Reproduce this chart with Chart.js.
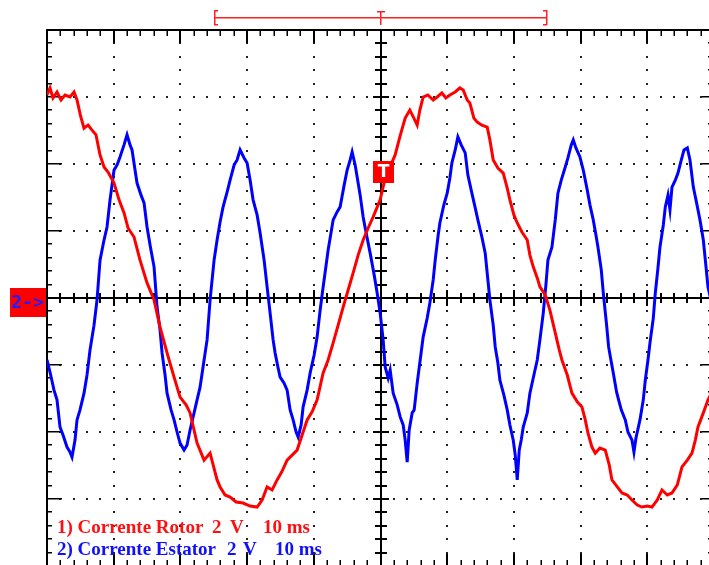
<!DOCTYPE html>
<html>
<head>
<meta charset="utf-8">
<script src="https://cdn.jsdelivr.net/npm/chart.js@4.4.1/dist/chart.umd.min.js"></script>
<style>
  html, body { margin: 0; padding: 0; background: #fff; overflow: hidden; }
  #scope { position: absolute; left: 0; top: 0; }
</style>
</head>
<body>
<canvas id="scope" width="720" height="572"></canvas>
<script>
// time base: 10 ms/div, 10 divisions; vertical: 2 V/div, 8 divisions
const timeMin = 0, timeMax = 100;
const voltMin = -8, voltMax = 8;
const triggerTime = 50;
const triggerLevel = 3.76;
const memoryStart = 25, memoryEnd = 75;

// channel 1: rotor current (red)
const rotorTime = [
  0, 0.45, 0.9, 1.5, 2.1, 2.7, 3.45, 4.05, 4.5, 5.0,
  5.55, 6.15, 6.75, 7.35, 7.95, 8.55, 9.15, 10.05, 10.8, 11.55,
  12.15, 13.05, 13.95, 15.0, 16.05, 16.95, 18.0, 19.05, 19.95, 20.85,
  21.45, 22.5, 23.55, 24.45, 25.5, 25.95, 26.7, 27.45, 28.35, 29.4,
  30.45, 31.5, 32.25, 33.0, 33.75, 34.5, 35.2, 36.0, 36.75, 37.5,
  38.25, 39.0, 39.75, 40.5, 41.4, 42.15, 42.9, 43.65, 44.4, 45.15,
  45.9, 46.65, 47.4, 48.15, 48.9, 49.95, 50.7, 51.4, 52.2, 52.9,
  53.7, 54.4, 55.0, 55.5, 55.9, 56.4, 57.1, 57.9, 58.5, 59.2,
  59.8, 60.4, 61.2, 61.9, 62.4, 63.0, 63.4, 64.0, 64.5, 65.2,
  66.0, 66.4, 66.9, 67.6, 68.4, 69.0, 69.4, 70.0, 70.5, 71.2,
  72.0, 72.4, 72.9, 73.5, 73.9, 74.7, 75.4, 76.2, 76.8, 77.2,
  78.0, 78.7, 79.5, 80.2, 80.7, 81.1, 81.7, 82.2, 82.9, 83.7,
  84.3, 84.7, 85.5, 86.2, 87.0, 87.7, 88.5, 89.2, 90.0, 90.7,
  91.5, 92.2, 93.0, 93.7, 94.5, 95.2, 96.0, 96.7, 97.2, 97.6,
  98.4, 99.1, 99.7
];
const rotorVolts = [
  6.06, 6.27, 5.97, 6.15, 5.91, 6.06, 6.0, 6.15, 5.91, 5.46,
  5.07, 5.16, 5.01, 4.87, 4.27, 3.91, 3.76, 3.43, 2.93, 2.54,
  2.09, 1.82, 1.13, 0.45, -0.06, -0.87, -1.64, -2.36, -2.96, -3.19,
  -3.43, -4.33, -4.84, -4.63, -5.43, -5.64, -5.88, -5.94, -6.09, -6.12,
  -6.21, -6.24, -6.03, -5.64, -5.73, -5.43, -5.19, -4.84, -4.69, -4.54,
  -4.09, -3.64, -3.40, -3.04, -2.24, -1.85, -1.34, -0.81, -0.27, 0.24,
  0.75, 1.28, 1.73, 2.09, 2.42, 2.93, 3.58, 3.91, 4.27, 4.81,
  5.37, 5.61, 5.37, 5.16, 5.61, 6.0, 6.06, 5.91, 6.0, 6.12,
  5.97, 6.06, 6.15, 6.27, 6.21, 5.91, 5.82, 5.37, 5.25, 5.16,
  5.10, 4.72, 4.12, 3.88, 3.73, 3.28, 2.93, 2.48, 2.24, 1.97,
  1.73, 1.28, 0.93, 0.60, 0.33, 0.09, -0.36, -1.04, -1.55, -1.85,
  -2.30, -2.84, -3.10, -3.25, -3.64, -4.03, -4.45, -4.63, -4.48, -4.54,
  -4.99, -5.43, -5.64, -5.82, -5.88, -6.03, -6.18, -6.24, -6.21, -6.24,
  -6.03, -5.73, -5.88, -5.82, -5.58, -5.04, -4.84, -4.63, -4.24, -3.85,
  -3.43, -3.04, -2.81
];

// channel 2: stator current (blue)
const statorTime = [
  0, 0.45, 1.05, 1.5, 1.95, 2.4, 3.0, 3.45, 3.75, 4.2,
  4.5, 4.95, 5.55, 6.0, 6.45, 7.05, 7.5, 7.95, 8.55, 9.0,
  9.45, 10.05, 10.5, 10.95, 11.55, 12.0, 12.45, 12.75, 13.2, 13.5,
  14.1, 14.55, 15.0, 15.45, 16.05, 16.5, 16.95, 17.25, 17.7, 18.0,
  18.6, 19.05, 19.5, 19.95, 20.55, 21.0, 21.45, 22.05, 22.5, 22.95,
  23.55, 24.0, 24.45, 25.05, 25.5, 25.95, 26.4, 27.0, 27.45, 28.05,
  28.5, 28.95, 29.55, 30.0, 30.45, 30.9, 31.5, 31.95, 32.55, 33.0,
  33.45, 33.9, 34.2, 34.65, 34.95, 35.55, 36.0, 36.45, 36.9, 37.35,
  37.65, 38.1, 38.4, 39.0, 39.45, 40.05, 40.5, 40.95, 41.4, 41.85,
  42.15, 42.9, 43.5, 43.95, 44.55, 45.0, 45.45, 45.75, 46.2, 46.5,
  46.95, 47.4, 47.85, 48.45, 49.05, 49.5, 49.95, 50.4, 50.7, 51.15,
  51.45, 51.9, 52.5, 52.95, 53.4, 53.7, 54.0, 54.3, 54.75, 55.05,
  55.5, 55.95, 56.4, 57.0, 57.4, 57.9, 58.2, 58.65, 58.9, 59.5,
  60.0, 60.4, 60.7, 61.2, 61.6, 62.1, 62.7, 63.1, 63.7, 64.2,
  64.6, 65.2, 65.7, 66.1, 66.4, 66.9, 67.2, 67.6, 67.9, 68.5,
  69.0, 69.4, 69.9, 70.2, 70.5, 70.8, 71.1, 71.4, 72.0, 72.4,
  73.0, 73.5, 73.9, 74.4, 74.8, 75.1, 75.7, 76.2, 76.6, 77.1,
  77.7, 78.1, 78.6, 78.9, 79.3, 79.9, 80.4, 81.0, 81.4, 81.9,
  82.3, 82.6, 83.1, 83.4, 83.9, 84.2, 84.6, 84.9, 85.4, 85.7,
  86.1, 86.7, 87.1, 87.7, 88.0, 88.3, 88.9, 89.4, 89.7, 90.1,
  90.4, 90.9, 91.2, 91.6, 91.9, 92.4, 92.7, 93.1, 93.4, 93.7,
  94.2, 94.6, 95.1, 95.5, 96.0, 96.4, 96.9, 97.3, 97.9, 98.4,
  98.7, 99.1, 99.7
];
const statorVolts = [
  -1.85, -2.21, -2.75, -3.04, -3.85, -4.09, -4.45, -4.60, -4.75, -4.24,
  -3.64, -3.34, -2.84, -2.30, -1.55, -0.81, -0.06, 1.13, 1.73, 2.12,
  2.93, 3.82, 3.97, 4.21, 4.57, 4.87, 4.57, 4.42, 3.82, 3.43,
  3.07, 2.84, 2.12, 1.58, 0.93, -0.27, -0.96, -1.64, -2.30, -2.84,
  -3.34, -3.64, -4.0, -4.33, -4.54, -4.39, -3.94, -3.43, -3.04, -2.66,
  -1.85, -1.25, -0.06, 1.13, 1.73, 2.27, 2.72, 3.16, 3.52, 3.97,
  4.12, 4.42, 4.18, 4.03, 3.52, 2.93, 2.48, 1.94, 1.13, 0.33,
  -0.45, -1.25, -1.64, -2.09, -2.36, -2.54, -2.75, -3.34, -3.64, -4.0,
  -4.15, -3.79, -3.25, -2.75, -2.24, -1.70, -1.16, -0.36, 0.33, 0.99,
  1.43, 2.33, 2.57, 2.72, 3.37, 3.82, 4.12, 4.36, 3.97, 3.61,
  3.07, 2.42, 1.94, 1.34, 0.69, 0.15, -0.45, -1.25, -2.06, -2.39,
  -2.15, -2.84, -3.19, -3.55, -3.79, -4.24, -4.90, -3.94, -3.43, -3.34,
  -2.54, -1.85, -1.16, -0.60, -0.15, 0.54, 1.13, 1.88, 2.24, 2.78,
  3.13, 3.58, 4.03, 4.42, 4.81, 4.57, 4.33, 3.67, 3.13, 2.69,
  2.33, 1.82, 1.34, 0.54, -0.06, -0.81, -1.46, -1.94, -2.45, -2.90,
  -3.34, -3.79, -4.24, -4.69, -5.43, -4.54, -4.24, -3.85, -3.43, -2.84,
  -2.30, -1.85, -1.25, -0.45, 0.39, 1.13, 1.52, 2.33, 3.13, 3.52,
  3.91, 4.18, 4.57, 4.72, 4.48, 4.21, 3.82, 3.22, 2.78, 2.33,
  1.88, 1.52, 0.84, 0.15, -0.81, -1.46, -1.91, -2.24, -2.81, -3.04,
  -3.34, -3.64, -4.0, -4.24, -4.60, -4.18, -3.64, -3.04, -2.45, -1.85,
  -1.34, -0.60, 0.15, 0.90, 1.52, 2.18, 2.72, 3.07, 2.63, 3.31,
  3.52, 3.73, 4.12, 4.42, 4.48, 4.12, 3.31, 2.93, 2.33, 1.73,
  1.13, 0.33, -0.21
];

const channelLabels = [
  { parts: ['1) Corrente Rotor', '2', 'V', '10 ms'], offsets: [0, 155, 173, 206], color: '#ff1010' },
  { parts: ['2) Corrente Estator', '2', 'V', '10 ms'], offsets: [0, 170, 186, 218], color: '#1010ff' }
];

const toPoints = (ts, vs) => ts.map((t, i) => ({ x: t, y: vs[i] }));

// oscilloscope graticule, drawn under the traces
const graticule = {
  id: 'graticule',
  beforeDatasetsDraw(chart) {
    const { ctx, scales: { x, y } } = chart;
    const left = Math.round(x.getPixelForValue(timeMin));
    const right = Math.round(x.getPixelForValue(timeMax));
    const top = Math.round(y.getPixelForValue(voltMax));
    const bottom = Math.round(y.getPixelForValue(voltMin));
    const cx = Math.round(x.getPixelForValue(triggerTime));
    const cy = Math.round(y.getPixelForValue(0));
    ctx.save();
    ctx.fillStyle = '#222';
    // dotted division lines
    for (let d = 1; d < 10; d++) {
      if (d === 5) continue;
      const px = Math.round(x.getPixelForValue(d * 10));
      for (let k = 1; k < 40; k++) {
        const py = Math.round(y.getPixelForValue(voltMin + k * 0.4));
        ctx.fillRect(px - 1, py - 1, 2, 2);
      }
    }
    for (let d = 1; d < 8; d++) {
      if (d === 4) continue;
      const py = Math.round(y.getPixelForValue(voltMin + d * 2));
      for (let k = 1; k < 50; k++) {
        const px = Math.round(x.getPixelForValue(k * 2));
        ctx.fillRect(px - 1, py - 1, 2, 2);
      }
    }
    ctx.fillStyle = '#000';
    // centre cross with ticks
    ctx.fillRect(left, cy - 1, right - left, 2);
    ctx.fillRect(cx - 1, top, 2, bottom - top);
    for (let k = 1; k < 50; k++) {
      const px = Math.round(x.getPixelForValue(k * 2));
      const h = k % 5 === 0 ? 8 : 5;
      ctx.fillRect(px - 1, cy - h, 2, 2 * h);
    }
    for (let k = 1; k < 40; k++) {
      const py = Math.round(y.getPixelForValue(voltMin + k * 0.4));
      const w = k % 5 === 0 ? 8 : 6;
      ctx.fillRect(cx - w, py - 1, 2 * w, 2);
    }
    // frame ticks
    for (let k = 1; k < 50; k++) {
      const px = Math.round(x.getPixelForValue(k * 2));
      const major = k % 5 === 0;
      ctx.fillRect(px - (major ? 1 : 0.5), top, major ? 2 : 1.5, major ? 13 : 6);
      ctx.fillRect(px - (major ? 1 : 0.5), bottom - (major ? 12 : 6), major ? 2 : 1.5, major ? 12 : 6);
    }
    for (let k = 1; k < 40; k++) {
      const py = Math.round(y.getPixelForValue(voltMin + k * 0.4));
      const major = k % 5 === 0;
      ctx.fillRect(left, py - 1, major ? 15 : 5, 1.5);
      ctx.fillRect(right - (major ? 12 : 6), py - 1, major ? 12 : 6, 1.5);
    }
    // frame
    ctx.fillRect(left - 1, top - 1, right - left + 2, 2);
    ctx.fillRect(left - 1, top - 1, 2, bottom - top + 2);
    ctx.fillRect(right - 1, top - 1, 2, bottom - top + 2);
    ctx.fillRect(left - 1, bottom - 1, right - left + 2, 2);
    ctx.restore();
  },
  afterDatasetsDraw(chart) {
    const { ctx, scales: { x, y } } = chart;
    const left = x.getPixelForValue(timeMin);
    const top = y.getPixelForValue(voltMax);
    const cx = Math.round(x.getPixelForValue(triggerTime));
    const cy = Math.round(y.getPixelForValue(0));
    ctx.save();
    // memory window bracket above the screen
    const bx0 = Math.round(x.getPixelForValue(memoryStart));
    const bx1 = Math.round(x.getPixelForValue(memoryEnd));
    const by = Math.round(top - 13);
    ctx.fillStyle = '#ff2020';
    ctx.fillRect(bx0, by, bx1 - bx0, 1.5);
    ctx.fillRect(bx0, by - 7, 1.5, 15);
    ctx.fillRect(bx0, by - 7, 4, 1.5);
    ctx.fillRect(bx0, by + 7, 4, 1.5);
    ctx.fillRect(bx1 - 1, by - 7, 1.5, 15);
    ctx.fillRect(bx1 - 4, by - 7, 4, 1.5);
    ctx.fillRect(bx1 - 4, by + 7, 4, 1.5);
    ctx.fillRect(cx - 1, by - 6, 1.5, 14);
    ctx.fillRect(cx - 4, by - 6, 8, 1.5);
    // trigger marker
    const ty = Math.round(y.getPixelForValue(triggerLevel));
    ctx.fillStyle = '#ff0000';
    ctx.fillRect(cx - 8, ty - 11, 21, 22);
    ctx.fillStyle = '#fff';
    ctx.font = 'bold 17px "DejaVu Sans"';
    ctx.textAlign = 'center';
    ctx.textBaseline = 'middle';
    ctx.fillText('T', cx + 2.5, ty + 1);
    // channel 2 ground marker
    ctx.fillStyle = '#ff0000';
    ctx.fillRect(10, cy - 10, left - 11, 29);
    ctx.fillStyle = '#2020ff';
    ctx.font = 'bold 18px "DejaVu Sans Mono"';
    ctx.fillText('2->', (10 + left) / 2 - 1, cy + 5);
    // channel captions
    ctx.font = 'bold 19px "Liberation Serif"';
    ctx.textAlign = 'left';
    ctx.textBaseline = 'alphabetic';
    channelLabels.forEach((lab, i) => {
      ctx.fillStyle = lab.color;
      lab.parts.forEach((p, j) => ctx.fillText(p, left + 10 + lab.offsets[j], 533 + i * 22));
    });
    ctx.restore();
  }
};

new Chart(document.getElementById('scope'), {
  type: 'line',
  data: {
    datasets: [{
      label: 'Corrente Rotor',
      data: toPoints(rotorTime, rotorVolts),
      borderColor: '#ff0000',
      borderWidth: 3
    }, {
      label: 'Corrente Estator',
      data: toPoints(statorTime, statorVolts),
      borderColor: '#0000ff',
      borderWidth: 3
    }]
  },
  options: {
    responsive: false,
    animation: false,
    layout: { padding: { left: 47, top: 30, right: 6, bottom: 6 } },
    elements: { point: { radius: 0 }, line: { tension: 0 } },
    plugins: { legend: { display: false }, tooltip: { enabled: false } },
    scales: {
      x: { type: 'linear', min: timeMin, max: timeMax, display: false },
      y: { min: voltMin, max: voltMax, display: false }
    }
  },
  plugins: [graticule]
});
</script>
</body>
</html>
